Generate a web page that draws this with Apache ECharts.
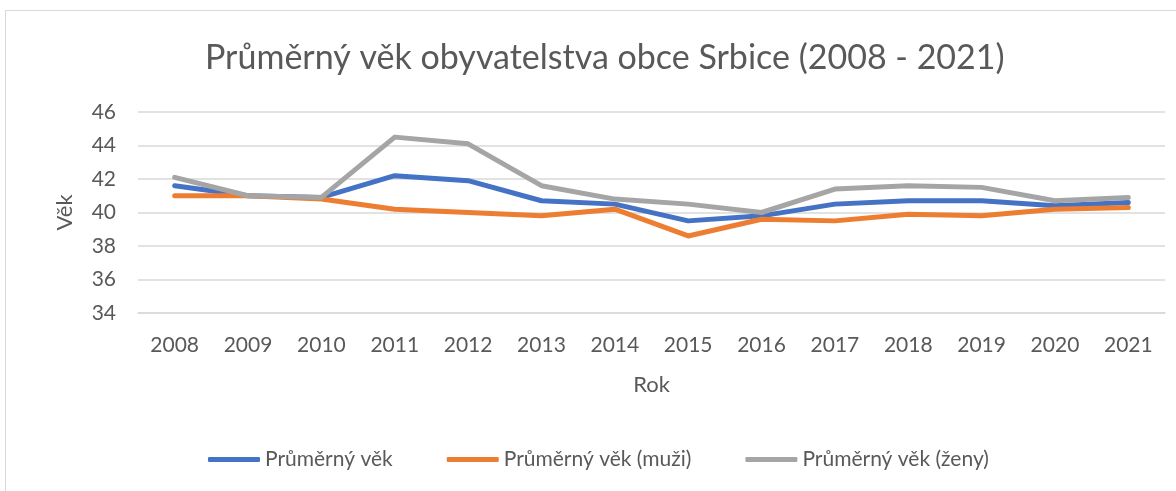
<!DOCTYPE html>
<html><head><meta charset="utf-8">
<script src="https://cdn.jsdelivr.net/npm/echarts@6/dist/echarts.min.js"></script>
<style>html,body{margin:0;padding:0;background:#fff}#c{width:1176px;height:491px}</style>
</head><body><div id="c"></div>
<script>
const years = ['2008','2009','2010','2011','2012','2013','2014','2015','2016','2017','2018','2019','2020','2021'];
const avgAll = [41.6,41.0,40.9,42.2,41.9,40.7,40.5,39.5,39.8,40.5,40.7,40.7,40.4,40.6];
const avgMen = [41.0,41.0,40.8,40.2,40.0,39.8,40.2,38.6,39.6,39.5,39.9,39.8,40.2,40.3];
const avgWomen = [42.1,41.0,40.9,44.5,44.1,41.6,40.8,40.5,40.0,41.4,41.6,41.5,40.7,40.9];
const names = ['Průměrný věk','Průměrný věk (muži)','Průměrný věk (ženy)'];
const colors = ['#4472C4','#ED7D31','#A5A5A5'];
const font = 'Lato, "Open Sans", sans-serif';
const chart = echarts.init(document.getElementById('c'));
const mk = (n,d,c)=>({name:n,type:'line',data:d,symbol:'none',lineStyle:{width:5,color:c,cap:'round',join:'round'},itemStyle:{color:c}});
chart.setOption({
  animation:false,
  textStyle:{fontFamily:font},
  title:{text:'Průměrný věk obyvatelstva obce Srbice (2008 - 2021)',left:200,top:36,
    textStyle:{fontFamily:font,fontSize:34,fontWeight:'normal',color:'#595959'}},
  graphic:[{type:'rect',shape:{x:5.5,y:10.5,width:1180,height:500},style:{fill:'none',stroke:'#d9d9d9',lineWidth:1}}],
  grid:{left:138,right:11,top:112,bottom:178},
  xAxis:{type:'category',data:years,boundaryGap:true,name:'Rok',nameLocation:'middle',nameGap:61,
    nameTextStyle:{fontFamily:font,fontSize:22,color:'#595959'},
    axisLine:{show:true,lineStyle:{color:'#d9d9d9',width:1.5}},axisTick:{show:false},
    axisLabel:{fontFamily:font,fontSize:21,color:'#595959',margin:22}},
  yAxis:{type:'value',min:34,max:46,interval:2,name:'Věk',nameLocation:'middle',nameGap:62,nameRotate:90,
    nameTextStyle:{fontFamily:font,fontSize:22,color:'#595959'},
    axisLine:{show:false},axisTick:{show:false},
    axisLabel:{fontFamily:font,fontSize:21,color:'#595959',margin:22},
    splitLine:{lineStyle:{color:'#d9d9d9',width:1.5}}},
  legend:{bottom:16,left:203,itemWidth:52,itemHeight:5,itemGap:54,icon:'roundRect',
    textStyle:{fontFamily:font,fontSize:21,color:'#595959'},data:names},
  series:[mk(names[0],avgAll,colors[0]),mk(names[1],avgMen,colors[1]),mk(names[2],avgWomen,colors[2])]
});
</script></body></html>
